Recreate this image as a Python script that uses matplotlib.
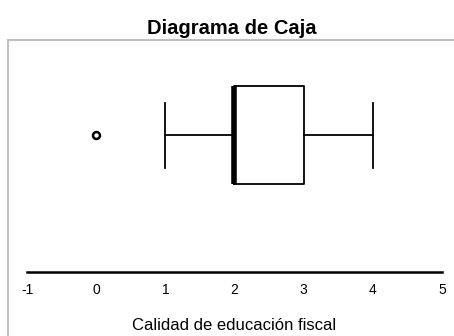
import matplotlib
matplotlib.use('Agg')
import matplotlib.pyplot as plt
from matplotlib.patches import Rectangle

plt.rcParams['font.family'] = ['Liberation Sans', 'DejaVu Sans']

# box plot statistics
q1 = 2
med = 2
q3 = 3
whis_lo = 1
whis_hi = 4
fliers = [0]
ticks = [-1, 0, 1, 2, 3, 4, 5]
title = 'Diagrama de Caja'
xlabel = 'Calidad de educación fiscal'

W, H = 454, 336
fig = plt.figure(figsize=(W / 100, H / 100), dpi=100)

# gray frame, cut off at right and bottom
fig.patches.append(Rectangle((8 / W, -0.1), 1.2, (H - 40) / H + 0.1,
                             transform=fig.transFigure, fill=False,
                             edgecolor='#c0c0c0', linewidth=1.5))

ax = fig.add_axes([27 / W, (H - 272) / H, 415 / W, 232 / H])
stats = [dict(med=med, q1=q1, q3=q3, whislo=whis_lo, whishi=whis_hi, fliers=fliers)]
ax.bxp(stats, positions=[0.59], widths=0.42, capwidths=0.28,
       orientation='horizontal', showfliers=True,
       boxprops=dict(color='black', linewidth=1.3),
       whiskerprops=dict(color='black', linewidth=1.3),
       capprops=dict(color='black', linewidth=1.3),
       medianprops=dict(color='black', linewidth=4),
       flierprops=dict(marker='o', markersize=5, markerfacecolor='white',
                       markeredgecolor='black', markeredgewidth=1.8))

ax.set_xlim(-1, 5)
ax.set_ylim(0, 1)
ax.set_xticks(ticks)
ax.set_xticklabels([str(t) for t in ticks], fontsize=10)
ax.set_yticks([])
for s in ['top', 'right', 'left']:
    ax.spines[s].set_visible(False)
ax.spines['bottom'].set_linewidth(1.8)
ax.tick_params(axis='x', length=0, pad=8)
ax.set_xlabel(xlabel, fontsize=12, labelpad=15)

fig.text(232 / W, 1 - 28 / H, title, ha='center', va='center',
         fontsize=14.5, fontweight='bold')

fig.savefig('out.png', dpi=100)
